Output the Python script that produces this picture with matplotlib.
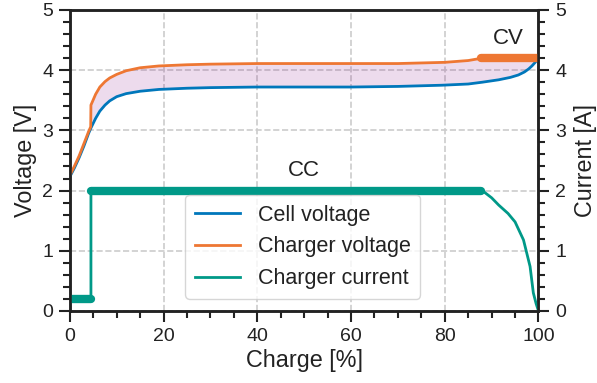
import numpy as np
import matplotlib.pyplot as plt
from matplotlib.ticker import MultipleLocator

# data
charge_cell = [0, 1, 2, 3, 4, 4.5, 5.5, 6.4, 7.5, 8.5, 10, 12, 15, 19, 25, 30, 40, 50, 60, 70,
               79.4, 85, 88, 91.5, 94, 95.7, 97, 97.9, 98.6, 99.3, 100]
cell_voltage = [2.23, 2.38, 2.55, 2.74, 2.95, 3.04, 3.2, 3.32, 3.42, 3.49, 3.56, 3.61, 3.65, 3.68, 3.7,
                3.71, 3.72, 3.72, 3.72, 3.73, 3.75, 3.77, 3.8, 3.84, 3.88, 3.92, 3.97, 4.02, 4.07, 4.13, 4.2]

charge_chg = [0, 1, 2, 3, 4, 4.45, 4.5, 5.5, 6.4, 7.5, 8.5, 10, 12, 15, 19, 25, 30, 40, 50, 60, 70,
              80, 85, 88, 100]
charger_voltage = [2.25, 2.41, 2.58, 2.78, 2.98, 3.06, 3.42, 3.6, 3.72, 3.81, 3.87, 3.93, 3.99, 4.04, 4.07,
                   4.09, 4.1, 4.11, 4.11, 4.11, 4.11, 4.13, 4.16, 4.2, 4.2]

charge_cur = [0, 4.5, 4.5, 88, 90, 91.5, 93.5, 95, 96.8, 98.2, 98.9, 99.5, 100]
charger_current = [0.2, 0.2, 2.0, 2.0, 1.88, 1.76, 1.62, 1.48, 1.18, 0.74, 0.3, 0.12, 0.0]

cc_start, cv_start = 4.5, 87.8

c_blue, c_orange, c_teal = '#0077BB', '#EE7733', '#009988'
ink = '#222222'

plt.rcParams['font.family'] = ['Liberation Sans', 'DejaVu Sans']
plt.rcParams['font.size'] = 14

fig, ax = plt.subplots(figsize=(5.97, 3.83), dpi=100)
fig.subplots_adjust(left=0.117, right=0.902, top=0.974, bottom=0.188)
ax2 = ax.twinx()

ax.plot(charge_cell, cell_voltage, color=c_blue, lw=2, label='Cell voltage', zorder=3)
ax.plot(charge_chg, charger_voltage, color=c_orange, lw=2, label='Charger voltage', zorder=3)
ax.plot(charge_cur, charger_current, color=c_teal, lw=2, label='Charger current', zorder=3)

# shaded gap between charger and cell voltage
xs = np.linspace(0, 100, 801)
ax.fill_between(xs, np.interp(xs, charge_cell, cell_voltage),
                np.interp(xs, charge_chg, charger_voltage),
                color='purple', alpha=0.14, lw=0, zorder=1)

# thick segments for the CC and CV phases
ax.plot([0, cc_start], [0.2, 0.2], color=c_teal, lw=6, solid_capstyle='round', zorder=4)
ax.plot([cc_start, cv_start], [2.0, 2.0], color=c_teal, lw=6, solid_capstyle='round', zorder=4)
ax.plot([cv_start, 100], [4.2, 4.2], color=c_orange, lw=6, solid_capstyle='round', zorder=4)

ax.text(50, 2.34, 'CC', ha='center', va='center', fontsize=16, color=ink)
ax.text(93.6, 4.53, 'CV', ha='center', va='center', fontsize=16, color=ink)

for a in (ax, ax2):
    a.set_ylim(0, 5)
    a.yaxis.set_major_locator(MultipleLocator(1))
    a.yaxis.set_minor_locator(MultipleLocator(0.2))
    a.tick_params(which='major', length=8, width=1.5, direction='out', pad=4, colors=ink,
                  labelsize=14)
    a.tick_params(which='minor', length=5, width=1.5, direction='out', colors=ink)
    for s in a.spines.values():
        s.set_linewidth(1.8)
        s.set_color(ink)

ax.set_xlim(0, 100)
ax.xaxis.set_major_locator(MultipleLocator(20))
ax.xaxis.set_minor_locator(MultipleLocator(5))
ax.grid(True, which='major', ls='--', color='#cccccc', lw=1.2)
ax.set_axisbelow(True)

ax.set_xlabel('Charge [%]', color=ink, fontsize=16.8, labelpad=3)
ax.set_ylabel('Voltage [V]', color=ink, fontsize=16.8, labelpad=4)
ax2.set_ylabel('Current [A]', color=ink, fontsize=16.8, labelpad=6)

leg = ax.legend(loc='lower center', bbox_to_anchor=(0.497, 0.005), frameon=True, fontsize=15.5,
                edgecolor='#cccccc', handlelength=2.1, borderpad=0.45, labelspacing=0.5,
                handletextpad=0.8)
for t in leg.get_texts():
    t.set_color(ink)

fig.savefig('out.png', dpi=100)
